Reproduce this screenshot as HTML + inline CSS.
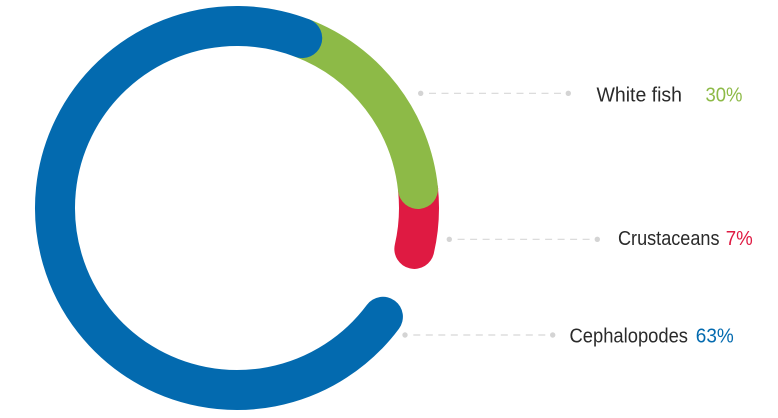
<!DOCTYPE html>
<html>
<head>
<meta charset="utf-8">
<style>
  html, body { margin:0; padding:0; background:#ffffff; }
  body { width:778px; height:418px; overflow:hidden; }
  svg { display:block; }
  text { font-family: "Liberation Sans", sans-serif; font-size:20px; }
</style>
</head>
<body>
<svg width="778" height="418" viewBox="0 0 778 418" xmlns="http://www.w3.org/2000/svg">
  <!-- ring segments -->
  <path d="M 418.00 188.98 A 182 182 0 0 1 414.34 248.94" fill="none" stroke="#DF1A42" stroke-width="40" stroke-linecap="round"/>
  <path d="M 418.00 188.98 L 418.3 186" fill="none" stroke="#DF1A42" stroke-width="40" stroke-linecap="butt"/>
  <path d="M 302.22 38.09 A 182 182 0 0 1 418.00 188.98" fill="none" stroke="#8DBA47" stroke-width="40" stroke-linecap="round"/>
  <path d="M 382.92 316.77 A 182 182 0 1 1 302.22 38.09" fill="none" stroke="#036AAF" stroke-width="40" stroke-linecap="round"/>

  <!-- connectors -->
  <g fill="#D4D4D4">
    <circle cx="420.7" cy="93.3" r="2.7"/>
    <circle cx="568.3" cy="93.3" r="2.7"/>
    <circle cx="449.3" cy="239.3" r="2.7"/>
    <circle cx="597.3" cy="239.3" r="2.7"/>
    <circle cx="405" cy="335" r="2.7"/>
    <circle cx="552.7" cy="335" r="2.7"/>
  </g>
  <g stroke="#D8D8D8" stroke-width="1.2" stroke-dasharray="7 5.5" fill="none">
    <line x1="429" y1="93.3" x2="562" y2="93.3"/>
    <line x1="457.6" y1="239.3" x2="591" y2="239.3"/>
    <line x1="413.3" y1="335" x2="546.5" y2="335"/>
  </g>

  <!-- labels -->
  <text x="596.5" y="101.5" fill="#2A2A2A" textLength="85.5" lengthAdjust="spacingAndGlyphs">White fish</text>
  <text x="705.5" y="101.5" fill="#8DBA47" textLength="37" lengthAdjust="spacingAndGlyphs">30%</text>

  <text x="618" y="245" fill="#2A2A2A" textLength="101.5" lengthAdjust="spacingAndGlyphs">Crustaceans</text>
  <text x="725.8" y="245" fill="#DF1A42" textLength="27" lengthAdjust="spacingAndGlyphs">7%</text>

  <text x="569.5" y="342.3" fill="#2A2A2A" textLength="118.5" lengthAdjust="spacingAndGlyphs">Cephalopodes</text>
  <text x="695.8" y="342.3" fill="#036AAF" textLength="38" lengthAdjust="spacingAndGlyphs">63%</text>
</svg>
</body>
</html>
